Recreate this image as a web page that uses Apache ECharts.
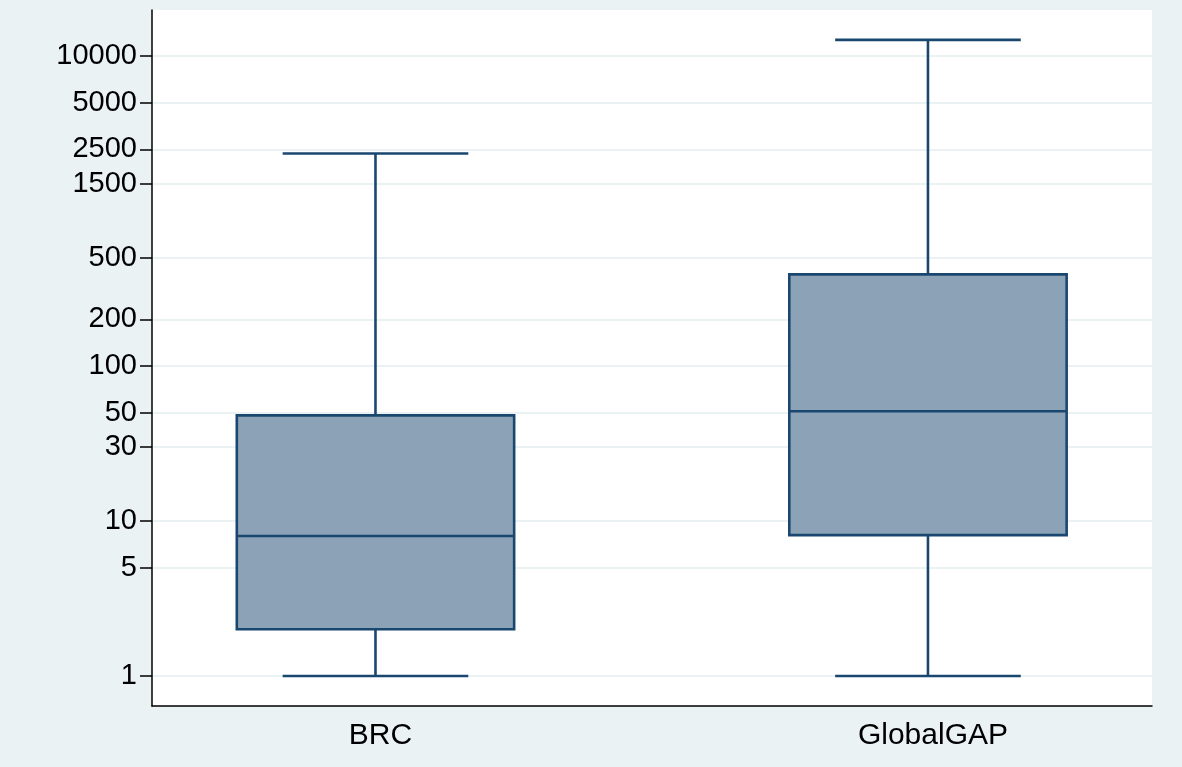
<!DOCTYPE html>
<html>
<head>
<meta charset="utf-8">
<script src="https://cdn.jsdelivr.net/npm/echarts@6/dist/echarts.min.js"></script>
<style>
html,body{margin:0;padding:0;background:#ffffff;}
#c{width:1182px;height:767px;}
</style>
</head>
<body>
<div id="c"></div>
<script>
// Data
const categories = ['BRC', 'GlobalGAP'];
const whiskerLow = [1, 1];
const q1 = [2, 8.1];
const median = [8, 51];
const q3 = [48, 390];
const whiskerHigh = [2350, 12700];
const yTickValues = [1, 5, 10, 30, 50, 100, 200, 500, 1500, 2500, 5000, 10000];

const boxData = categories.map((c, i) => [i, whiskerLow[i], q1[i], median[i], q3[i], whiskerHigh[i]]);

const navy = '#1a476f';
const fill = '#8ca3b7';
const gridCol = '#eaf2f3';
const yMin = 0.64, yMax = 19800;
const FONT = 'Liberation Sans, Arial, sans-serif';

const chart = echarts.init(document.getElementById('c'), null, {renderer: 'canvas'});
chart.setOption({
  backgroundColor: '#eaf2f3',
  animation: false,
  grid: [
    {left: 152, right: 30, top: 10, bottom: 61, show: true, backgroundColor: '#ffffff', borderWidth: 0, containLabel: false}
  ],
  xAxis: [
    {type: 'value', min: -0.4045, max: 1.4055,
      axisLine: {show: true, onZero: false, lineStyle: {color: '#000', width: 1.5}},
      axisTick: {show: false}, splitLine: {show: false},
      axisLabel: {color: '#000', fontSize: 30, fontFamily: FONT, margin: 15, padding: [0, 0, 0, 10],
        customValues: categories.map((c, i) => i),
        formatter: function (v) { return categories[Math.round(v)] || ''; }}}
  ],
  yAxis: [
    {type: 'log', logBase: 10, min: yMin, max: yMax,
      axisLine: {show: true, onZero: false, lineStyle: {color: '#000', width: 1.5}},
      axisTick: {show: true, length: 12, lineStyle: {color: '#000', width: 1.5}, customValues: yTickValues},
      axisLabel: {color: '#000', fontSize: 29, fontFamily: FONT, margin: 15, padding: [5, 0, 0, 0],
        customValues: yTickValues,
        formatter: function (v) { return String(Math.round(v)); }},
      splitLine: {show: true, lineStyle: {color: gridCol, width: 2}},
      minorTick: {show: false}, minorSplitLine: {show: false}}
  ],
  series: [{
    type: 'custom',
    data: boxData,
    encode: {x: 0, y: [1, 2, 3, 4, 5]},
    renderItem: function (params, api) {
      const idx = api.value(0);
      const band = api.size([1, 0])[0];
      const halfBox = band * 0.251;
      const halfCap = band * 0.168;
      const pLow = api.coord([idx, api.value(1)]);
      const pQ1 = api.coord([idx, api.value(2)]);
      const pMed = api.coord([idx, api.value(3)]);
      const pQ3 = api.coord([idx, api.value(4)]);
      const pHigh = api.coord([idx, api.value(5)]);
      const x = pMed[0];
      const ls = {stroke: navy, lineWidth: 2.6};
      return {
        type: 'group',
        children: [
          {type: 'line', shape: {x1: x, y1: pQ1[1], x2: x, y2: pLow[1]}, style: ls},
          {type: 'line', shape: {x1: x, y1: pQ3[1], x2: x, y2: pHigh[1]}, style: ls},
          {type: 'line', shape: {x1: x - halfCap, y1: pLow[1], x2: x + halfCap, y2: pLow[1]}, style: ls},
          {type: 'line', shape: {x1: x - halfCap, y1: pHigh[1], x2: x + halfCap, y2: pHigh[1]}, style: ls},
          {type: 'rect', shape: {x: x - halfBox, y: pQ3[1], width: halfBox * 2, height: pQ1[1] - pQ3[1]},
            style: {fill: fill, stroke: navy, lineWidth: 2.6}},
          {type: 'line', shape: {x1: x - halfBox, y1: pMed[1], x2: x + halfBox, y2: pMed[1]}, style: ls}
        ]
      };
    }
  }]
});
</script>
</body>
</html>
